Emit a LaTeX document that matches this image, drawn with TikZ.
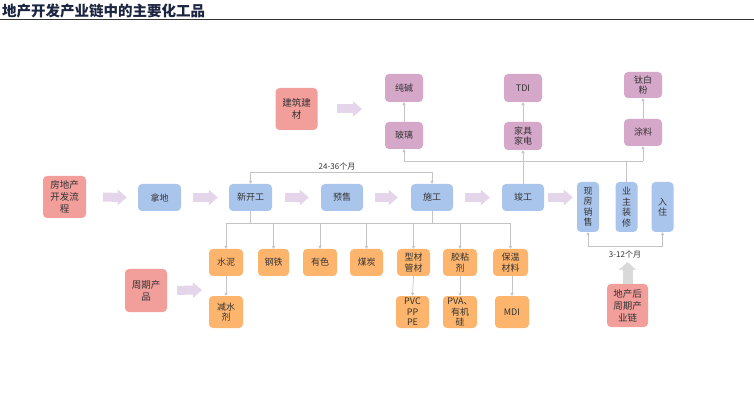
\documentclass[tikz,border=0pt]{standalone}
\usepackage{fontspec}
\setmainfont{Noto Sans CJK SC}
\usetikzlibrary{arrows.meta,calc}
\definecolor{redbox}{HTML}{F29E9B}
\definecolor{purplebox}{HTML}{D5A7C9}
\definecolor{bluebox}{HTML}{AAC5EC}
\definecolor{orangebox}{HTML}{FDB46C}
\definecolor{lav}{HTML}{E5D5EA}
\definecolor{conncol}{HTML}{C4C4C4}
\definecolor{txt}{HTML}{333333}
\definecolor{titlec}{HTML}{1C2541}
\definecolor{grayarrow}{HTML}{D9D9D9}
\tikzset{
  box/.style={rounded corners=4pt, inner sep=0pt, align=center, text=txt,
    font=\fontsize{9}{10.5}\selectfont},
  sz/.style 2 args={minimum width=#1pt, minimum height=#2pt},
  redn/.style={box, fill=redbox, font=\fontsize{9.5}{12}\selectfont},
  purn/.style={box, fill=purplebox},
  blun/.style={box, fill=bluebox},
  orgn/.style={box, fill=orangebox},
  conn/.style={draw=conncol, line width=0.7pt, -{Triangle[length=3pt,width=3.2pt]}},
  plain/.style={draw=conncol, line width=0.7pt},
  bigarr/.style={draw=lav, line width=9pt, -{Triangle[length=9pt,width=15pt]}},
  grayarr/.style={draw=grayarrow, line width=10pt, -{Triangle[length=8pt,width=17pt]}},
  lbl/.style={font=\fontsize{8}{8}\selectfont, text=txt, inner sep=0pt}
}
\begin{document}
\begin{tikzpicture}[x=1pt,y=-1pt]
\useasboundingbox[fill=white] (0,0) rectangle (754,419);
% title
\node[anchor=west, inner sep=0pt, text=titlec, font=\fontsize{14.5}{14.5}\selectfont\bfseries] (title) at (2,11) {地产开发产业链中的主要化工品};
\coordinate (tl0) at (0,20);
\coordinate (tl1) at (754,20);
\draw[line width=1pt, draw=txt] (tl0) -- (tl1);

% red boxes
\node[redn, sz={42}{42}] (jz) at (296.5,109) {建筑建\\材};
\node[redn, sz={43}{42}] (fdc) at (64.5,197) {房地产\\开发流\\程};
\node[redn, sz={42}{43}] (zq) at (146,290.5) {周期产\\品};
\node[redn, sz={41}{43}] (dch) at (627.5,305.5) {地产后\\周期产\\业链};

% purple boxes
\node[purn, sz={38}{28}] (cj) at (404,88) {纯碱};
\node[purn, sz={38}{27}] (bl) at (404,135.5) {玻璃};
\node[purn, sz={38}{28}] (tdi) at (523,88) {TDI};
\node[purn, sz={38}{28}] (jj) at (523,136) {家具\\家电};
\node[purn, sz={38}{26}] (tb) at (643,85) {钛白\\粉};
\node[purn, sz={38}{27}] (tlc) at (643,132.5) {涂料};

% blue main row
\node[blun, sz={43}{27}] (nd) at (159.5,197.5) {拿地};
\node[blun, sz={43}{27}] (xkg) at (250.5,197.5) {新开工};
\node[blun, sz={42}{27}] (ys) at (342,197.5) {预售};
\node[blun, sz={42}{27}] (sg) at (432,197.5) {施工};
\node[blun, sz={42}{27}] (jg) at (523,197.5) {竣工};
\node[blun, sz={22}{50}] (xf) at (588,207) {现\\房\\销\\售};
\node[blun, sz={22}{50}] (yz) at (626.5,207) {业\\主\\装\\修};
\node[blun, sz={22}{50}] (rz) at (662.5,207) {入\\住};

% orange row 1
\node[orgn, sz={34}{27}] (sn) at (226,262.5) {水泥};
\node[orgn, sz={31}{27}] (gt) at (273.5,262.5) {钢铁};
\node[orgn, sz={34}{27}] (ysc) at (320,262.5) {有色};
\node[orgn, sz={33}{27}] (mt) at (366.5,262.5) {煤炭};
\node[orgn, sz={33}{27}] (xc) at (413.5,262.5) {型材\\管材};
\node[orgn, sz={34}{27}] (jn) at (460,262.5) {胶粘\\剂};
\node[orgn, sz={35}{27}] (bw) at (510.5,262.5) {保温\\材料};
% orange row 2
\node[orgn, sz={34}{32}] (jsj) at (226,312) {减水\\剂};
\node[orgn, sz={33}{32}] (pvc) at (412.5,312) {PVC\\PP\\PE};
\node[orgn, sz={34}{32}] (pva) at (460,312) {PVA、\\有机\\硅};
\node[orgn, sz={34}{32}] (mdi) at (512,312) {MDI};

% big lavender arrows
\draw[bigarr, shorten <=17pt, shorten >=11pt] (fdc.east) -- (nd.west);
\draw[bigarr, shorten <=12pt, shorten >=11pt] (nd.east) -- (xkg.west);
\draw[bigarr, shorten <=13pt, shorten >=12pt] (xkg.east) -- (ys.west);
\draw[bigarr, shorten <=12pt, shorten >=13pt] (ys.east) -- (sg.west);
\draw[bigarr, shorten <=12pt, shorten >=12pt] (sg.east) -- (jg.west);
\draw[bigarr, shorten <=4pt, shorten >=4pt] (jg.east) -- (jg.east -| xf.west);
\coordinate (jzt) at (362,109);
\draw[bigarr, shorten <=19pt] (jz.east) -- (jzt);
\coordinate (zqt) at (202,290);
\draw[bigarr, shorten <=10pt] (zq.east) -- (zqt);

% gray up arrow
\coordinate (gat) at (627.5,262);
\draw[grayarr] (dch.north) -- (gat);

% top purple connections
\draw[conn] (bl.north) -- (cj.south);
\draw[conn] (jj.north) -- (tdi.south);
\draw[conn] (tlc.north) -- (tb.south);
\draw[conn] (jg.north) -- (jj.south);
\coordinate (h1) at (404,161);
\coordinate (h2) at (643,161);
\draw[plain] (yz.north) -- (yz.north |- h1);
\draw[plain] (h1) -- (h2);
\draw[conn] (h1) -- (bl.south);
\draw[conn] (h2) -- (tlc.south);

% 24-36 months
\coordinate (m1) at (342,172);
\draw[conn] (m1) -| (xkg.north);
\draw[conn] (m1) -| (sg.north);
\node[lbl] (lab1) at (337,166) {24-36个月};

% bus below
\coordinate (b0) at (226,223);
\coordinate (b1) at (510.5,223);
\draw[plain] (xkg.south) -- (xkg.south |- b0);
\draw[plain] (sg.south) -- (sg.south |- b0);
\draw[plain] (b0) -- (b1);
\foreach \n in {sn,gt,ysc,mt,xc,jn,bw} {
  \draw[conn] (\n.north |- b0) -- (\n.north);
}
\draw[conn] (sn.south) -- (jsj.north);
\draw[conn] (xc.south) -- (pvc.north);
\draw[conn] (jn.south) -- (pva.north);
\draw[conn] (bw.south -| mdi.north) -- (mdi.north);

% 3-12 months bracket
\coordinate (k1) at (588,246);
\coordinate (k2) at (662.5,246);
\draw[plain] (k1) -- (k2);
\draw[conn] (k1) -- (xf.south);
\draw[conn] (k2) -- (rz.south);
\node[lbl] (lab2) at (625,254) {3-12个月};
\end{tikzpicture}
\end{document}
